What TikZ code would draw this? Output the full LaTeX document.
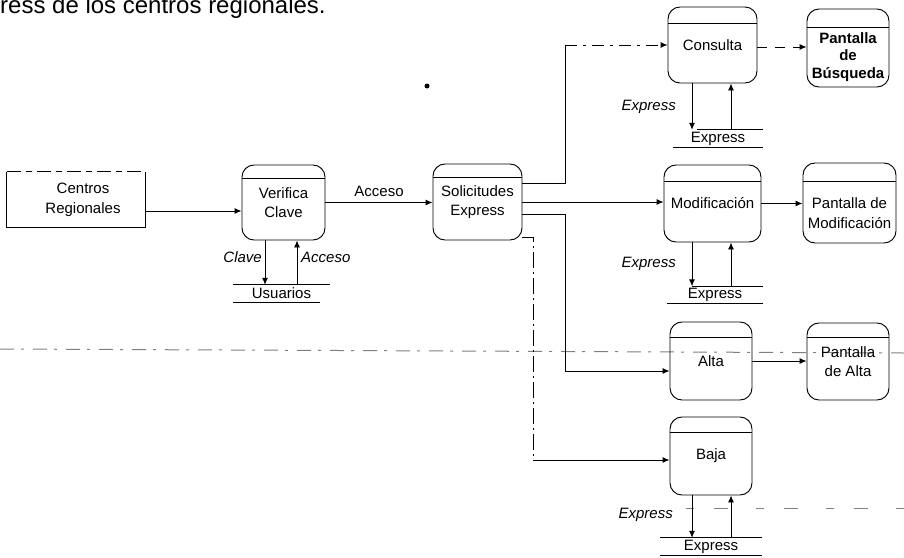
\documentclass[tikz,border=0pt]{standalone}
\usepackage{fontspec}
\setmainfont{Liberation Sans}
\usetikzlibrary{arrows.meta,calc}
% separator line under the top edge of a process box
\newcommand\procsep[2]{\draw[rule] ($(#1.north west)+(0,#2)$) -- ($(#1.north east)+(0,#2)$);}
\begin{document}
\begin{tikzpicture}[x=1pt,y=-1pt,
  txt/.style={font=\fontsize{15}{19.5}\selectfont, align=center, inner sep=0pt},
  lbl/.style={font=\fontsize{15}{19.5}\selectfont\itshape, inner sep=0pt},
  procbox/.style={draw, rounded corners=12pt, line width=0.95pt, inner sep=0pt, txt},
  store/.style={txt, minimum height=17pt},
  rule/.style={line width=0.95pt},
  flow/.style={line width=0.95pt, -{Latex[length=7pt,width=6pt]}},
  crease/.style={black!50, line width=1pt, dash pattern=on 14pt off 7pt on 3pt off 9pt},
  dashdot/.style={line width=0.95pt, dash pattern=on 16pt off 4pt on 2pt off 4pt},
]
\useasboundingbox (0,0) rectangle (904,557);

% heading fragment
\node[anchor=base west, inner sep=0pt, font=\fontsize{24}{28}\selectfont] (head) at (0,13) {ress de los centros regionales.};
\node[circle, fill, inner sep=0pt, minimum size=5pt] (dot) at (427,86) {};

% fold marks
\draw[crease] (0,349) -- (904,353);
\draw[crease, dash pattern=on 8pt off 20pt on 14pt off 28pt] (686,508) -- (904,508);

% external entity
\node[minimum width=138pt, minimum height=55pt, inner sep=0pt] (cent) at (76,199.5) {};
\draw[rule] (cent.north west) -- (cent.south west) -- (cent.south east) -- (cent.north east);
\draw[rule, dash pattern=on 14pt off 5pt on 6pt off 5pt] (cent.north west) -- (cent.north east);
\node[txt] (centtxt) at (83,200) {Centros\\Regionales};

% processes
\node[procbox, minimum width=83pt, minimum height=75pt] (verif) at (283.5,202.5) {Verifica\\Clave};
\procsep{verif}{14}
\node[procbox, minimum width=89pt, minimum height=76pt] (sol) at (477.5,202) {Solicitudes\\Express};
\procsep{sol}{14}
\node[procbox, minimum width=89pt, minimum height=76pt] (cons) at (712.5,45) {Consulta};
\procsep{cons}{17}
\node[procbox, minimum width=82pt, minimum height=78pt] (busq) at (848,48) {};
\procsep{busq}{19}
\node[txt, font=\fontsize{15}{17.5}\selectfont\bfseries] (busqtxt) at (848,57) {Pantalla\\de\\Búsqueda};
\node[procbox, minimum width=97pt, minimum height=77pt] (modif) at (712.5,203.5) {Modificación};
\procsep{modif}{17}
\node[procbox, minimum width=93pt, minimum height=80pt] (pmod) at (849.5,203) {};
\procsep{pmod}{19}
\node[txt] (pmodtxt) at (849.5,213) {Pantalla de\\Modificación};
\node[procbox, minimum width=82pt, minimum height=78pt] (alta) at (711,361) {Alta};
\procsep{alta}{16}
\node[procbox, minimum width=82pt, minimum height=77pt] (palta) at (848,361.5) {Pantalla\\de Alta};
\procsep{palta}{15}
\node[procbox, minimum width=82pt, minimum height=78pt] (baja) at (711,456) {Baja};
\procsep{baja}{16}

% data stores
\node[store, minimum width=97pt] (usu) at (281.5,293.5) {Usuarios};
\draw[rule] (usu.north west) -- (usu.north east);
\draw[rule] (usu.south west) -- ([xshift=-10pt]usu.south east);
\node[store, minimum width=90pt] (cexp) at (718,138.5) {Express};
\draw[rule] ([xshift=24pt]cexp.north west) -- (cexp.north east);
\draw[rule] (cexp.south west) -- (cexp.south east);
\node[store, minimum width=96pt] (mexp) at (715,295) {Express};
\draw[rule] ([xshift=25pt]mexp.north west) -- (mexp.north east);
\draw[rule] (mexp.south west) -- (mexp.south east);
\node[store, minimum width=102pt] (bexp) at (711,546.5) {Express};
\draw[rule] (bexp.north west) -- (bexp.north east);
\draw[rule] (bexp.south west) -- (bexp.south east);

% routing columns
\coordinate (trunk) at (565,0);
\coordinate (trunkb) at (533,0);

% Centros Regionales -> Verifica Clave
\coordinate (c1) at ([yshift=-11.5pt]cent.east);
\draw[flow] (c1) -- (c1 -| verif.west);

% Verifica Clave <-> Usuarios
\coordinate (vdn) at ([xshift=-18.5pt]verif.south);
\coordinate (vup) at ([xshift=13.5pt]verif.south);
\draw[flow] (vdn) -- (vdn |- usu.north);
\draw[flow] (vup |- usu.north) -- (vup);
\node[lbl, anchor=east] (clavelbl) at (262,257) {Clave};
\node[lbl, anchor=west] (accesolbl) at (301,257) {Acceso};

% Verifica Clave -> Solicitudes Express
\draw[flow] (verif.east) -- (verif.east -| sol.west)
  node[midway, above=5pt, txt] (accesoflow) {Acceso};

% Solicitudes Express -> Consulta
\coordinate (s1) at ([yshift=19pt]sol.east);
\draw[rule] (s1) -- (s1 -| trunk) -- (trunk |- cons.west) coordinate (s1top);
\draw[flow, dash pattern=on 12pt off 6pt on 3pt off 6pt] (s1top) -- (cons.west);

% Solicitudes Express -> Modificacion
\draw[flow] (sol.east) -- (sol.east -| modif.west);

% Solicitudes Express -> Alta
\coordinate (s3) at ([yshift=-12pt]sol.east);
\coordinate (ain) at ([yshift=-10pt]alta.west);
\draw[flow] (s3) -- (s3 -| trunk) -- (trunk |- ain) -- (ain);

% Solicitudes Express -> Baja
\coordinate (s4) at ([yshift=-35pt]sol.east);
\coordinate (bin) at ([yshift=-4pt]baja.west);
\draw[dashdot] (s4) -- (s4 -| trunkb) -- (trunkb |- bin) coordinate (s4low);
\draw[flow] (s4low) -- (bin);

% process -> screen
\draw[flow, dash pattern=on 10pt off 8pt] ([yshift=-2pt]cons.east) -- ([yshift=-2pt]cons.east -| busq.west);
\draw[flow] (modif.east) -- (modif.east -| pmod.west);
\draw[flow] (alta.east) -- (alta.east -| palta.west);

% process <-> Express stores
\coordinate (cdn) at ([xshift=-20.5pt]cons.south);
\coordinate (cup) at ([xshift=18.5pt]cons.south);
\draw[flow] (cdn) -- (cdn |- cexp.north);
\draw[flow] (cup |- cexp.north) -- (cup);
\node[lbl, anchor=east] (cexplbl) at (676,107) {Express};

\coordinate (mdn) at ([xshift=-20.5pt]modif.south);
\coordinate (mup) at ([xshift=18.5pt]modif.south);
\draw[flow] (mdn) -- (mdn |- mexp.north);
\draw[flow] (mup |- mexp.north) -- (mup);
\node[lbl, anchor=east] (mexplbl) at (676,264) {Express};

\coordinate (bdn) at ([xshift=-19pt]baja.south);
\coordinate (bup) at ([xshift=20pt]baja.south);
\draw[flow] (bdn) -- (bdn |- bexp.north);
\draw[flow] (bup |- bexp.north) -- (bup);
\node[lbl, anchor=east] (bexplbl) at (673,515) {Express};
\end{tikzpicture}
\end{document}
